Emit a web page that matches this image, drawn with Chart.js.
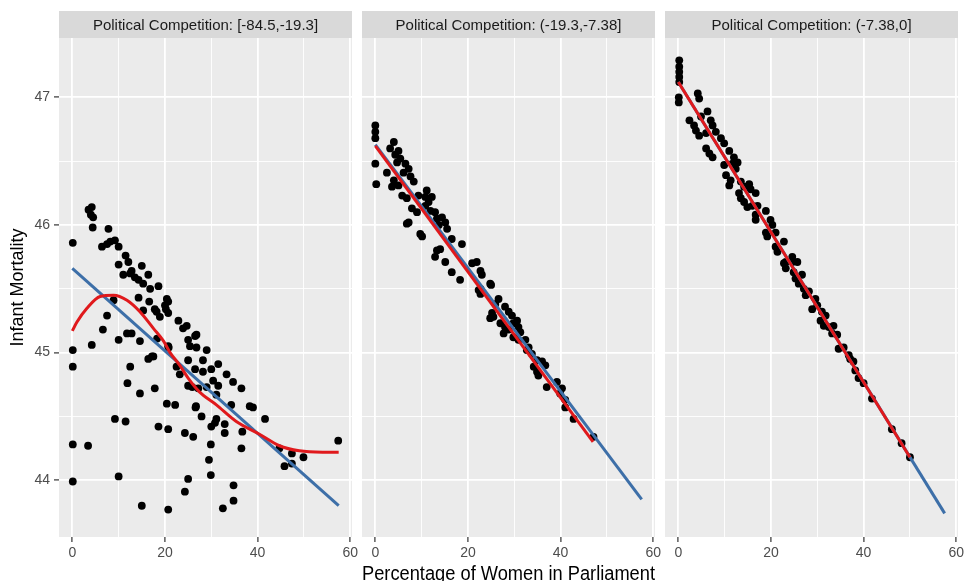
<!DOCTYPE html>
<html>
<head>
<meta charset="utf-8">
<title>Infant Mortality by Women in Parliament</title>
<script src="https://cdn.jsdelivr.net/npm/chart.js@4.4.1/dist/chart.umd.min.js"></script>
<style>
  html, body { margin: 0; padding: 0; background: #fff; overflow: hidden; }
  #wrap { position: relative; width: 964px; height: 581px; overflow: hidden; }
  #wrap canvas { position: absolute; top: 0; }
</style>
</head>
<body>
<div id="wrap">
  <canvas id="panel1" width="360" height="600" style="left:0px"></canvas>
  <canvas id="panel2" width="301" height="600" style="left:362px"></canvas>
  <canvas id="panel3" width="299" height="600" style="left:665px"></canvas>
</div>
<script>
// facet labels
const stripLabels = [
  "Political Competition: [-84.5,-19.3]",
  "Political Competition: (-19.3,-7.38]",
  "Political Competition: (-7.38,0]"
];

// axis ticks (major ones get labels, the rest are minor grid lines)
const xGrid = [0, 10, 20, 30, 40, 50, 60];
const xLabels = [0, 20, 40, 60];
const yGrid = [44, 44.5, 45, 45.5, 46, 46.5, 47];
const yLabels = [44, 45, 46, 47];

// [percentage of women, infant mortality]
const lowPoints = [
  [3.5,46.12],[4.2,46.14],[4.0,46.08],[4.5,46.06],[4.4,45.98],[7.8,45.97],[0.1,45.86],
  [6.4,45.83],[7.5,45.85],[8.2,45.87],[9.2,45.88],[10.0,45.83],
  [11.5,45.76],[12.1,45.71],[10.0,45.69],[15.0,45.68],[12.8,45.64],[11.0,45.61],[16.4,45.61],
  [13.5,45.59],[12.5,45.62],[14.3,45.57],[15.3,45.54],[16.8,45.50],[18.6,45.52],
  [20.4,45.42],[20.7,45.40],[20.0,45.37],[18.2,45.32],[18.9,45.28],[20.7,45.31],[17.8,45.34],[20.2,45.34],
  [14.3,45.43],[16.6,45.40],[15.3,45.33],[22.9,45.25],[23.9,45.19],[24.7,45.21],[26.8,45.14],[25.0,45.10],
  [8.9,45.41],[7.5,45.29],[6.6,45.18],[10.0,45.10],[11.8,45.15],[12.8,45.15],[14.6,45.09],[4.2,45.06],
  [18.3,45.11],[20.8,45.04],[17.2,44.97],
  [0.1,45.02],[0.1,44.89],[12.5,44.89],[16.4,44.95],[17.5,44.97],[11.9,44.76],[17.8,44.72],[14.6,44.68],
  [20.4,44.60],[22.2,44.59],[9.2,44.48],[11.5,44.46],[18.6,44.42],[20.7,44.40],[0.1,44.28],[3.4,44.27],
  [0.1,43.99],[10.0,44.03],[15.0,43.80],[20.7,43.77],
  [24.3,44.37],[26.1,44.34],[25.0,44.01],[24.3,43.91],[29.9,44.28],[29.5,44.16],[29.9,44.04],[32.5,43.78],
  [34.8,43.96],[34.8,43.84],[36.5,44.25],
  [30.0,44.42],[31.1,44.48],[30.8,44.45],[32.9,44.44],[32.9,44.37],[36.7,44.38],[27.9,44.50],[26.7,44.58],
  [26.6,44.57],[25.9,44.73],
  [34.3,44.59],[38.3,44.58],[39.0,44.57],[41.6,44.48],[44.7,44.25],[47.4,44.21],[49.9,44.18],[45.8,44.11],
  [47.4,44.13],[57.4,44.31],
  [26.5,45.13],[25.4,45.05],[26.8,45.04],[25.0,44.94],[29.0,45.02],[28.2,44.94],[26.5,44.87],[28.2,44.85],
  [30.0,44.87],[31.5,44.91],[33.3,44.83],[34.7,44.77],[36.5,44.72],[30.4,44.78],[31.5,44.74],[25.0,44.74],
  [27.2,44.72],[29.0,44.73],[31.1,44.67],[22.5,44.89],[23.2,44.83],[20.7,45.05]
];

const midPoints = [
  [0,46.78],[0,46.73],[0,46.68],[0,46.48],[0.2,46.32],
  [4.0,46.65],[3.2,46.60],[5.0,46.58],[4.3,46.55],[5.4,46.52],[4.7,46.49],[6.5,46.48],[7.2,46.44],
  [2.5,46.41],[6.1,46.41],[7.6,46.38],[8.3,46.34],[4.0,46.35],[5.0,46.31],[3.6,46.30],[5.8,46.23],
  [6.8,46.21],[9.3,46.23],[11.1,46.27],[12.2,46.22],[7.9,46.13],[9.0,46.10],[10.8,46.15],[11.9,46.11],
  [12.9,46.10],[14.4,46.06],[15.1,46.02],[7.2,46.02],[6.8,46.01],[9.7,45.93],[10.1,45.91],[13.3,46.05],
  [13.7,46.00],[15.5,45.97],[16.5,45.89],[18.7,45.85],[13.3,45.80],[14.0,45.81],[12.9,45.75],[15.1,45.71],
  [16.5,45.63],[18.3,45.57],[20.9,45.70],[21.9,45.71],[22.7,45.64],[23.0,45.61],[24.8,45.54],[22.7,45.50],
  [10.8,46.22],[11.5,46.18],
  [22.3,45.49],[22.7,45.46],[25.0,45.53],[26.6,45.42],[25.9,45.38],[25.2,45.31],[25.5,45.28],[24.8,45.27],
  [28.0,45.36],[28.8,45.32],[29.5,45.29],[27.0,45.23],[28.0,45.20],[27.7,45.15],[28.8,45.18],[29.8,45.23],
  [30.6,45.25],[30.9,45.20],[31.3,45.16],[29.8,45.12],[30.9,45.10],[32.4,45.10],[32.7,45.02],[33.8,44.99],
  [33.1,45.04],[34.9,44.94],[36.0,44.93],[36.7,44.90],[34.2,44.89],[34.9,44.85],[35.2,44.82],[37.0,44.73],
  [39.2,44.77],[40.3,44.72],[39.9,44.68],[41.0,44.63],[41.0,44.57],[42.8,44.48],[47.1,44.34]
];

const highPoints = [
  [0.2,47.29],[0.2,47.24],[0.2,47.20],[0.2,47.16],[0.2,47.12],[0.1,47.00],[0.1,46.96],
  [4.2,47.03],[4.5,46.99],
  [2.4,46.82],[3.4,46.78],[3.8,46.74],[4.5,46.70],[4.9,46.85],[6.3,46.89],[7.0,46.82],[7.4,46.78],
  [6.0,46.72],[8.1,46.73],
  [9.2,46.68],[9.9,46.64],[6.0,46.60],[6.7,46.56],[7.4,46.53],[11.0,46.58],[12.0,46.53],[12.8,46.49],
  [11.7,46.48],[12.4,46.44],[9.9,46.47],[10.3,46.39],[11.3,46.35],[11.0,46.31],
  [13.5,46.34],[14.2,46.30],[15.3,46.32],[15.6,46.28],[16.7,46.25],[13.1,46.25],[13.5,46.21],[14.2,46.18],
  [14.9,46.14],[16.0,46.15],
  [17.1,46.15],[16.7,46.08],[16.7,46.04],[18.9,46.11],[19.9,46.04],[20.3,46.00],[18.9,45.94],[19.2,45.91],
  [21.0,45.94],[21.0,45.83],[21.4,45.79],[22.8,45.87],[23.2,45.71],[24.6,45.75],[25.7,45.71],
  [22.8,45.70],[23.2,45.66],[24.6,45.71],[24.9,45.63],[25.3,45.58],[26.0,45.54],[26.7,45.61],[27.1,45.50],
  [27.5,45.45],[28.2,45.48],[29.6,45.42],[28.9,45.34],[30.0,45.37],[31.0,45.32],[31.8,45.29],[30.7,45.25],
  [31.4,45.21],[32.5,45.20],[33.5,45.21],[33.2,45.15],[34.3,45.14],[34.6,45.03],[35.7,45.04],[36.8,44.98],
  [37.8,44.93],[37.1,44.95],[38.2,44.86],[38.9,44.80],[40.0,44.76],[41.8,44.64],[46.1,44.40],[48.2,44.29],
  [50.0,44.18]
];

// loess (red) and linear (blue) fits
const lowLoess = [
  [0,45.17],[1.0,45.24],[3.2,45.35],[6.0,45.44],[8.9,45.45],[11.8,45.41],[14.6,45.32],[17.5,45.19],
  [19.7,45.09],[21.1,45.00],[23.2,44.90],[25.0,44.80],[27.5,44.69],[31.1,44.59],[35.4,44.46],[40.4,44.36],
  [44.7,44.27],[49.0,44.23],[54.0,44.22],[57.5,44.22]
];
const lowLinear = [[0,45.66],[57.5,43.80]];
const midLoess = [[0,46.62],[47,44.30]];
const midLinear = [[0,46.63],[57.5,43.85]];
const highLoess = [[0,47.12],[50,44.18]];
const highLinear = [[0,47.12],[57.5,43.74]];

const FONT = "'Liberation Sans', Arial, sans-serif";
const RED = '#e0191c';
const BLUE = '#3d6fa8';

const toXY = pairs => pairs.map(([x, y]) => ({ x, y }));

// grey panel and strip header behind the grid
const panelBackground = {
  id: 'panelBackground',
  beforeDraw(chart, args, opts) {
    const { ctx, chartArea: a } = chart;
    ctx.save();
    ctx.fillStyle = '#ebebeb';
    ctx.fillRect(a.left, a.top, a.right - a.left, a.bottom - a.top);
    ctx.fillStyle = '#d9d9d9';
    ctx.fillRect(a.left, 11, a.right - a.left, a.top - 11);
    ctx.fillStyle = '#1a1a1a';
    ctx.font = '15px ' + FONT;
    ctx.textAlign = 'center';
    ctx.textBaseline = 'middle';
    ctx.fillText(opts.label, (a.left + a.right) / 2, (11 + a.top) / 2 + 1);
    ctx.restore();
  }
};

function gridStyle(majors, showTicks) {
  return {
    color: '#ffffff',
    lineWidth: c => majors.includes(c.tick.value) ? 1.8 : 0.9,
    drawTicks: showTicks,
    tickLength: 5,
    tickWidth: 1.2,
    tickColor: c => majors.includes(c.tick.value) ? '#333333' : 'rgba(0,0,0,0)'
  };
}

function makePanel(id, label, points, loess, linear, opts) {
  return new Chart(document.getElementById(id), {
    type: 'scatter',
    data: {
      datasets: [
        {
          data: toXY(loess), showLine: true, borderColor: RED, borderWidth: 3,
          pointRadius: 0, tension: opts.curved ? 0.4 : 0,
          cubicInterpolationMode: opts.curved ? 'monotone' : 'default', order: 0
        },
        {
          data: toXY(linear), showLine: true, borderColor: BLUE, borderWidth: 3,
          pointRadius: 0, order: 1
        },
        {
          data: toXY(points), pointRadius: 3.9, pointBackgroundColor: '#000000',
          pointBorderWidth: 0, order: 2
        }
      ]
    },
    options: {
      responsive: false,
      animation: false,
      events: [],
      layout: { autoPadding: false, padding: { top: 38, right: opts.padRight, left: 0, bottom: 0 } },
      plugins: {
        legend: { display: false },
        tooltip: { enabled: false },
        panelBackground: { label }
      },
      scales: {
        x: {
          type: 'linear',
          min: -2.875,
          max: 60.375,
          afterBuildTicks: s => { s.ticks = xGrid.map(v => ({ value: v })); },
          afterFit: s => { s.height = 63; s.paddingLeft = 0; s.paddingRight = 0; },
          grid: gridStyle(xLabels, true),
          border: { display: false },
          ticks: {
            autoSkip: false, maxRotation: 0, padding: 3, color: '#4d4d4d',
            font: { family: FONT, size: 14 },
            callback: v => xLabels.includes(v) ? String(v) : ''
          },
          title: {
            display: !!opts.xTitle,
            text: opts.xTitle || '',
            color: '#000000',
            font: { family: FONT, size: 20 },
            padding: { top: 0, bottom: 14 }
          }
        },
        y: {
          type: 'linear',
          min: 43.555,
          max: 47.465,
          afterBuildTicks: s => { s.ticks = yGrid.map(v => ({ value: v })); },
          afterFit: s => { s.width = opts.yAxis ? 59 : 0; s.paddingTop = 0; s.paddingBottom = 0; },
          grid: gridStyle(yLabels, opts.yAxis),
          border: { display: false },
          ticks: {
            display: opts.yAxis, autoSkip: false, padding: 4, color: '#4d4d4d',
            font: { family: FONT, size: 14 },
            callback: v => yLabels.includes(v) ? String(v) : ''
          },
          title: {
            display: opts.yAxis,
            text: 'Infant Mortality',
            color: '#000000',
            font: { family: FONT, size: 18 },
            padding: { top: 7, bottom: 0 }
          }
        }
      }
    },
    plugins: [panelBackground]
  });
}

makePanel('panel1', stripLabels[0], lowPoints, lowLoess, lowLinear, { curved: true, yAxis: true, padRight: 8 });
makePanel('panel2', stripLabels[1], midPoints, midLoess, midLinear, { yAxis: false, padRight: 8, xTitle: 'Percentage of Women in Parliament' });
makePanel('panel3', stripLabels[2], highPoints, highLoess, highLinear, { yAxis: false, padRight: 6 });
</script>
</body>
</html>
